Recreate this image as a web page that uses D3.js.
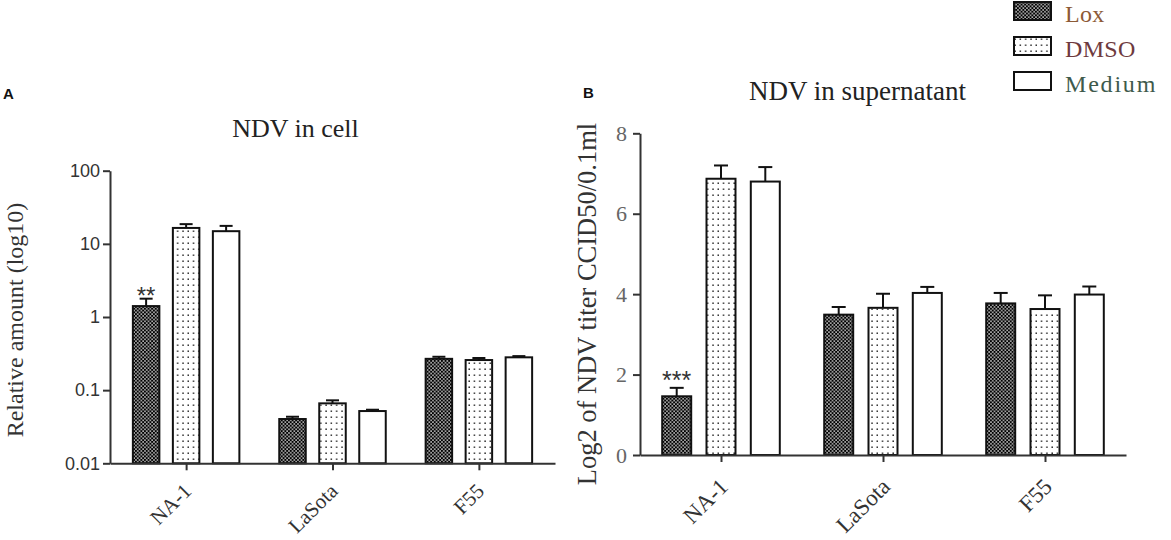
<!DOCTYPE html>
<html><head><meta charset="utf-8">
<script src="https://cdn.jsdelivr.net/npm/d3@7/dist/d3.min.js"></script>
<style>body{margin:0;background:#fff}svg{display:block}</style>
</head><body>
<svg id="c" width="1171" height="540"></svg>
<script>
// ---- data ----
const categories = ["NA-1", "LaSota", "F55"];
const seriesNames = ["Lox", "DMSO", "Medium"];
// Panel A: relative amount in cell (log10 axis)
const cellLox = [1.41, 0.0403, 0.268];
const cellLoxErr = [0.37, 0.0030, 0.018];
const cellDMSO = [16.5, 0.066, 0.258];
const cellDMSOErr = [2.1, 0.0066, 0.017];
const cellMedium = [14.9, 0.0518, 0.281];
const cellMediumErr = [2.7, 0.0022, 0.011];
const cellTicks = [0.01, 0.1, 1, 10, 100];
const cellTickLabels = ["0.01", "0.1", "1", "10", "100"];
// Panel B: Log2 titer in supernatant
const supLox = [1.46, 3.49, 3.77];
const supLoxErr = [0.21, 0.19, 0.26];
const supDMSO = [6.87, 3.66, 3.63];
const supDMSOErr = [0.33, 0.35, 0.34];
const supMedium = [6.80, 4.03, 3.99];
const supMediumErr = [0.36, 0.15, 0.20];
const supTicks = [0, 2, 4, 6, 8];
const legendColors = ["#8c5a36", "#6e3a3e", "#3e5a4c"];

const serif = "'Liberation Serif','Times New Roman',serif";
const sans = "'Liberation Sans',Arial,sans-serif";
const svg = d3.select("#c");

// patterns
const defs = svg.append("defs");
const P = 3.6;
const pc = defs.append("pattern").attr("id", "checker").attr("patternUnits", "userSpaceOnUse")
  .attr("width", P).attr("height", P);
pc.append("rect").attr("width", P).attr("height", P).attr("fill", "#000");
pc.append("rect").attr("x", 0.25).attr("y", 0.25).attr("width", 1.4).attr("height", 1.4).attr("fill", "#fff");
pc.append("rect").attr("x", 2.05).attr("y", 2.05).attr("width", 1.4).attr("height", 1.4).attr("fill", "#fff");
const pd = defs.append("pattern").attr("id", "dots").attr("patternUnits", "userSpaceOnUse")
  .attr("width", 5.3).attr("height", 6);
pd.append("rect").attr("width", 5.3).attr("height", 6).attr("fill", "#fff");
pd.append("rect").attr("x", 2.1).attr("y", 2.5).attr("width", 1.4).attr("height", 1.4).attr("fill", "#111");
const fills = ["url(#checker)", "url(#dots)", "#fff"];

function panel(opts) {
  const g = svg.append("g");
  const x = d3.scalePoint().domain(categories).range(opts.xRange).padding(opts.pad);
  const inner = d3.scalePoint().domain(seriesNames).range([-opts.off, opts.off]);
  const y = opts.y;
  const bw = opts.bw;
  const means = opts.means, errs = opts.errs;

  seriesNames.forEach((s, si) => {
    categories.forEach((c, ci) => {
      const cx = x(c) + inner(s);
      const v = means[si][ci], e = errs[si][ci];
      g.append("rect")
        .attr("x", cx - bw / 2).attr("y", y(v))
        .attr("width", bw).attr("height", y.range()[0] - y(v))
        .attr("fill", fills[si]).attr("stroke", "#111").attr("stroke-width", 2);
      g.append("line").attr("x1", cx).attr("x2", cx).attr("y1", y(v)).attr("y2", y(v + e))
        .attr("stroke", "#111").attr("stroke-width", 2);
      g.append("line").attr("x1", cx - opts.cap).attr("x2", cx + opts.cap).attr("y1", y(v + e)).attr("y2", y(v + e))
        .attr("stroke", "#111").attr("stroke-width", 2);
    });
  });

  const ya = g.append("g").attr("transform", `translate(${opts.xRange[0]},0)`)
    .call(d3.axisLeft(y).tickValues(opts.ticks).tickFormat(opts.tickFmt).tickSize(7).tickPadding(opts.tickPad).tickSizeOuter(0));
  ya.selectAll("path,line").attr("stroke", "#333").attr("stroke-width", 2);
  ya.selectAll("text").style("font-family", opts.tickFont).style("font-size", opts.tickSize + "px").attr("fill", opts.tickColor);

  const xa = g.append("g").attr("transform", `translate(0,${y.range()[0]})`)
    .call(d3.axisBottom(x).tickSize(7).tickSizeOuter(0));
  xa.selectAll("path,line").attr("stroke", "#333").attr("stroke-width", 2);
  xa.selectAll("text").attr("x", 0).attr("y", 0).attr("dy", null)
    .attr("transform", `translate(${opts.lblDx},${opts.lblDy}) rotate(-45)`)
    .style("text-anchor", "end").style("font-family", serif).style("font-size", opts.lblSize + "px").attr("fill", "#333");
  return { g, x, inner, y };
}

// ---- Panel A ----
const yA = d3.scaleLog().domain([0.01, 100]).range([463.3, 170.7]);
const A = panel({
  xRange: [110, 555], pad: 0.52, off: 40, bw: 26.5, cap: 6.5, y: yA,
  means: [cellLox, cellDMSO, cellMedium], errs: [cellLoxErr, cellDMSOErr, cellMediumErr],
  ticks: cellTicks, tickFmt: (d, i) => cellTickLabels[i], tickPad: 3,
  tickFont: sans, tickSize: 18, tickColor: "#333",
  lblDx: 6, lblDy: 29, lblSize: 21
});
svg.append("text").attr("x", A.x("NA-1") + A.inner("Lox")).attr("y", 304)
  .attr("text-anchor", "middle").style("font-family", sans).style("font-size", "24px").attr("fill", "#333").text("**");
svg.append("text").attr("x", 295.5).attr("y", 137).attr("text-anchor", "middle")
  .style("font-family", serif).style("font-size", "26px").attr("fill", "#222").text("NDV in cell");
svg.append("text").attr("transform", "translate(23,320) rotate(-90)").attr("text-anchor", "middle")
  .style("font-family", serif).style("font-size", "24px").attr("fill", "#333").text("Relative amount (log10)");
svg.append("text").attr("x", 3).attr("y", 98.5).style("font-family", sans).style("font-weight", "bold")
  .style("font-size", "15px").attr("fill", "#111").text("A");

// ---- Panel B ----
const yB = d3.scaleLinear().domain([0, 8]).range([455, 133.3]);
const B = panel({
  xRange: [640, 1126], pad: 0.5, off: 44.3, bw: 29, cap: 7, y: yB,
  means: [supLox, supDMSO, supMedium], errs: [supLoxErr, supDMSOErr, supMediumErr],
  ticks: supTicks, tickFmt: d3.format("d"), tickPad: 6,
  tickFont: serif, tickSize: 22, tickColor: "#666",
  lblDx: 8, lblDy: 33, lblSize: 23
});
svg.append("text").attr("x", B.x("NA-1") + B.inner("Lox")).attr("y", 389)
  .attr("text-anchor", "middle").style("font-family", sans).style("font-size", "25px").attr("fill", "#333").text("***");
svg.append("text").attr("x", 857.5).attr("y", 99.5).attr("text-anchor", "middle")
  .style("font-family", serif).style("font-size", "27px").attr("fill", "#222").text("NDV in supernatant");
svg.append("text").attr("transform", "translate(596,304) rotate(-90)").attr("text-anchor", "middle")
  .style("font-family", serif).style("font-size", "26.5px").attr("fill", "#333").text("Log2 of NDV titer CCID50/0.1ml");
svg.append("text").attr("x", 583).attr("y", 98).style("font-family", sans).style("font-weight", "bold")
  .style("font-size", "15px").attr("fill", "#111").text("B");

// ---- Legend ----
const lg = svg.append("g");
seriesNames.forEach((s, i) => {
  const yy = 2 + i * 35;
  lg.append("rect").attr("x", 1014).attr("y", yy).attr("width", 37).attr("height", 18)
    .attr("fill", fills[i]).attr("stroke", "#111").attr("stroke-width", 2);
  lg.append("text").attr("x", 1065).attr("y", yy + 19.5).style("font-family", serif).style("font-size", "24px")
    .style("letter-spacing", i === 2 ? "1.8px" : "0.3px")
    .attr("fill", legendColors[i]).text(s);
});
</script>
</body></html>
